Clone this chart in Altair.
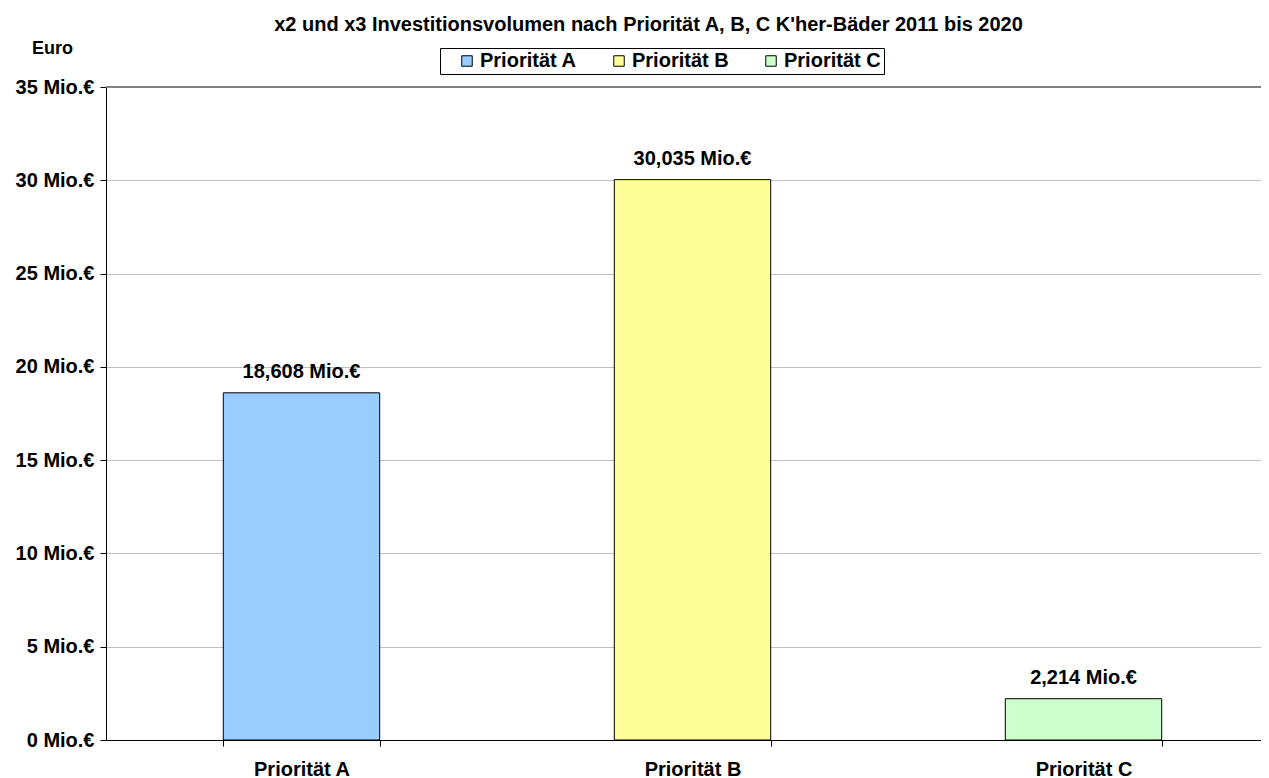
import altair as alt
import pandas as pd

categories = ["Priorität A", "Priorität B", "Priorität C"]
values = [18.608, 30.035, 2.214]
colors = ["#99CCFF", "#FFFF99", "#CCFFCC"]
y_ticks = [0, 5, 10, 15, 20, 25, 30, 35]

df = pd.DataFrame({
    "cat": categories,
    "val": values,
    "label": [f"{v:.3f}".replace(".", ",") + " Mio.€" for v in values],
})

FONT = "Liberation Sans"

x_enc = alt.X("cat:N", sort=categories,
              scale=alt.Scale(range=[0, 1173], paddingInner=0.6, paddingOuter=0.3),
              axis=alt.Axis(title=None, labelFontSize=20, labelFontWeight="bold",
                            labelFont=FONT, labelColor="black", labelPadding=13,
                            tickBand="extent", tickSize=6, tickColor="black",
                            domainColor="black", grid=False, labelAngle=0))

y_enc = alt.Y("val:Q", scale=alt.Scale(domain=[0, 35], nice=False),
              axis=alt.Axis(values=y_ticks, labelExpr="datum.value + ' Mio.€'",
                            labelFontSize=20, labelFontWeight="bold", labelFont=FONT,
                            labelColor="black", tickSize=6, tickColor="black",
                            domainColor="black", labelPadding=6,
                            gridColor="#c0c0c0", gridWidth=1,
                            title="Euro", titleAngle=0, titleX=-54, titleY=-39,
                            titleAlign="center", titleBaseline="middle",
                            titleFontSize=18, titleFontWeight="bold", titleFont=FONT,
                            titleColor="black"))

bars = alt.Chart(df).mark_bar(stroke="black", strokeWidth=1).encode(
    x=x_enc,
    y=y_enc,
    color=alt.Color("cat:N", sort=categories,
                    scale=alt.Scale(domain=categories, range=colors),
                    legend=alt.Legend(title=None, orient="none", legendX=334, legendY=-39,
                                      direction="horizontal", columns=3,
                                      symbolType="square", symbolSize=110,
                                      symbolStrokeColor="black", symbolStrokeWidth=1,
                                      symbolOffset=14,
                                      labelFontSize=20, labelFontWeight="bold",
                                      labelFont=FONT, labelColor="black",
                                      columnPadding=18, labelOffset=3,
                                      strokeColor="black", padding=3,
                                      fillColor="white")),
)

text = alt.Chart(df).mark_text(dy=-15, baseline="alphabetic", fontSize=20,
                               fontWeight="bold", font=FONT, color="black").encode(
    x=alt.X("cat:N", sort=categories),
    y="val:Q",
    text="label:N",
)

top_rule = alt.Chart(pd.DataFrame({"v": [35]})).mark_rule(
    color="#808080", strokeWidth=2).encode(y="v:Q")

chart = alt.layer(bars, text, top_rule).properties(
    width=1155, height=653,
    autosize=alt.AutoSizeParams(type="none"),
    padding={"left": 98, "top": 79, "right": 0, "bottom": 40},
    title=alt.TitleParams(
        "x2 und x3 Investitionsvolumen nach Priorität A, B, C K'her-Bäder 2011 bis 2020",
        fontSize=20, fontWeight="bold", font=FONT, color="black",
        anchor="middle", dx=-35, offset=4),
).configure_view(stroke=None)

chart.save("out.html", embed_options={"renderer": "svg", "actions": False})
